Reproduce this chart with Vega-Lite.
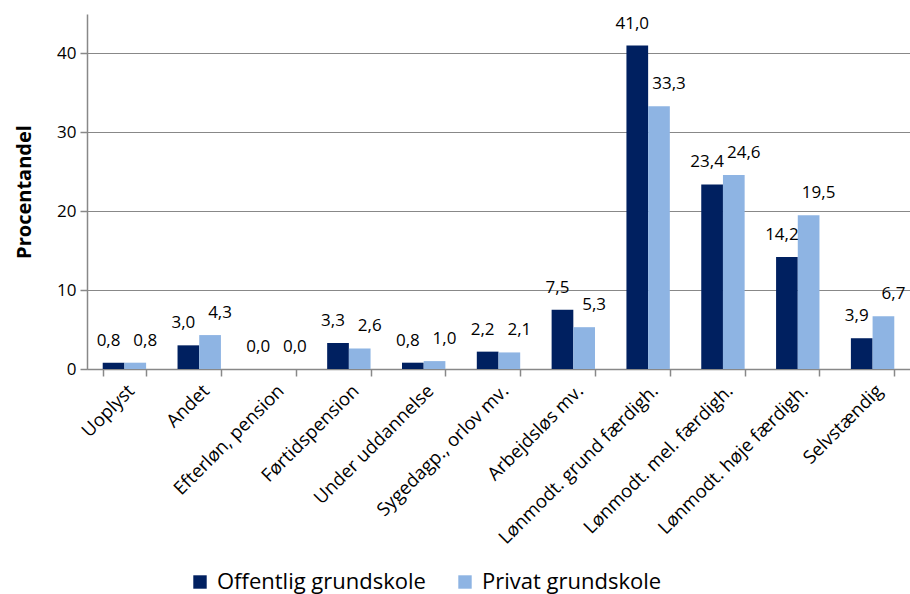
{
  "$schema": "https://vega.github.io/schema/vega-lite/v6.json",
  "autosize": {"type": "none"},
  "padding": {"left": 87, "top": 14, "right": 0, "bottom": 225},
  "width": 823,
  "height": 355,
  "config": {
    "locale": {"number": {"decimal": ",", "thousands": ".", "grouping": [3], "currency": ["", " kr."]}},
    "font": "Open Sans",
    "view": {"stroke": null},
    "axis": {"labelFont": "Open Sans", "titleFont": "Open Sans"}
  },
  "data": {
    "values": [
      {"kategori": "Uoplyst", "skole": "Offentlig grundskole", "pct": 0.8},
      {"kategori": "Uoplyst", "skole": "Privat grundskole", "pct": 0.8},
      {"kategori": "Andet", "skole": "Offentlig grundskole", "pct": 3.0},
      {"kategori": "Andet", "skole": "Privat grundskole", "pct": 4.3},
      {"kategori": "Efterløn, pension", "skole": "Offentlig grundskole", "pct": 0.0},
      {"kategori": "Efterløn, pension", "skole": "Privat grundskole", "pct": 0.0},
      {"kategori": "Førtidspension", "skole": "Offentlig grundskole", "pct": 3.3},
      {"kategori": "Førtidspension", "skole": "Privat grundskole", "pct": 2.6},
      {"kategori": "Under uddannelse", "skole": "Offentlig grundskole", "pct": 0.8},
      {"kategori": "Under uddannelse", "skole": "Privat grundskole", "pct": 1.0},
      {"kategori": "Sygedagp., orlov mv.", "skole": "Offentlig grundskole", "pct": 2.2},
      {"kategori": "Sygedagp., orlov mv.", "skole": "Privat grundskole", "pct": 2.1},
      {"kategori": "Arbejdsløs mv.", "skole": "Offentlig grundskole", "pct": 7.5},
      {"kategori": "Arbejdsløs mv.", "skole": "Privat grundskole", "pct": 5.3},
      {"kategori": "Lønmodt. grund færdigh.", "skole": "Offentlig grundskole", "pct": 41.0},
      {"kategori": "Lønmodt. grund færdigh.", "skole": "Privat grundskole", "pct": 33.3},
      {"kategori": "Lønmodt. mel. færdigh.", "skole": "Offentlig grundskole", "pct": 23.4},
      {"kategori": "Lønmodt. mel. færdigh.", "skole": "Privat grundskole", "pct": 24.6},
      {"kategori": "Lønmodt. høje færdigh.", "skole": "Offentlig grundskole", "pct": 14.2},
      {"kategori": "Lønmodt. høje færdigh.", "skole": "Privat grundskole", "pct": 19.5},
      {"kategori": "Selvstændig", "skole": "Offentlig grundskole", "pct": 3.9},
      {"kategori": "Selvstændig", "skole": "Privat grundskole", "pct": 6.7}
    ]
  },
  "encoding": {
    "x": {
      "field": "kategori", "type": "nominal", "sort": null,
      "scale": {"paddingInner": 0.42, "paddingOuter": 0.21},
      "axis": {
        "title": null, "labelAngle": -45, "labelAlign": "right", "labelBaseline": "top",
        "labelFontSize": 18.5, "labelColor": "#000", "labelPadding": 5, "labelLimit": 0,
        "tickBand": "extent", "tickSize": 7, "tickColor": "#888", "domainColor": "#888",
        "tickWidth": 1.5, "domainWidth": 1.5
      }
    },
    "xOffset": {"field": "skole", "type": "nominal", "sort": null},
    "y": {
      "field": "pct", "type": "quantitative",
      "scale": {"domain": [0, 45], "nice": false},
      "axis": {
        "title": "Procentandel", "titleFontSize": 20, "titleFontWeight": "bold", "titleColor": "#000",
        "titlePadding": 22,
        "values": [0, 10, 20, 30, 40], "labelFontSize": 17, "labelColor": "#000",
        "tickSize": 7, "tickColor": "#888", "domainColor": "#888", "gridColor": "#888",
        "tickWidth": 1.5, "domainWidth": 1.5, "gridWidth": 1.2, "labelPadding": 4
      }
    }
  },
  "layer": [
    {
      "mark": {"type": "bar"},
      "encoding": {
        "color": {
          "field": "skole", "type": "nominal", "sort": null,
          "scale": {"domain": ["Offentlig grundskole", "Privat grundskole"], "range": ["#002060", "#8EB4E3"]},
          "legend": {
            "title": null, "orient": "none", "legendX": 102, "legendY": 557, "direction": "horizontal",
            "symbolType": "square", "symbolSize": 180, "symbolStrokeWidth": 0,
            "labelFontSize": 22, "labelColor": "#000", "columnPadding": 28, "labelLimit": 0,
            "labelFont": "Open Sans", "labelOffset": 6
          }
        }
      }
    },
    {
      "transform": [{"filter": "datum.skole === 'Offentlig grundskole'"}],
      "mark": {"type": "text", "baseline": "bottom", "dy": -13, "dx": -5, "fontSize": 17, "color": "#000"},
      "encoding": {
        "text": {"field": "pct", "type": "quantitative", "format": ".1f"}
      }
    },
    {
      "transform": [{"filter": "datum.skole === 'Privat grundskole'"}],
      "mark": {"type": "text", "baseline": "bottom", "dy": -13, "dx": 10, "fontSize": 17, "color": "#000"},
      "encoding": {
        "text": {"field": "pct", "type": "quantitative", "format": ".1f"}
      }
    }
  ]
}
